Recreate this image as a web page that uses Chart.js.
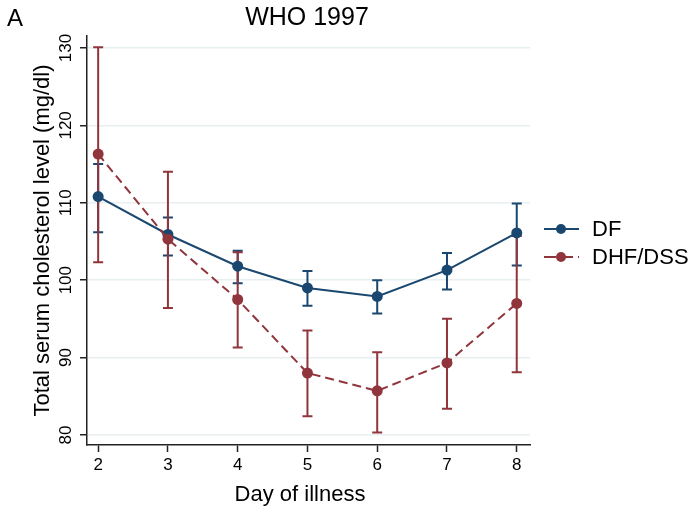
<!DOCTYPE html>
<html>
<head>
<meta charset="utf-8">
<script src="https://cdn.jsdelivr.net/npm/chart.js@4"></script>
<style>
  html, body { margin: 0; padding: 0; background: #fff; }
  canvas { display: block; }
</style>
</head>
<body>
<canvas id="c" width="690" height="512"></canvas>
<script>
// ---- data ----
const days = [2, 3, 4, 5, 6, 7, 8];
const dfMean  = [110.8, 105.9, 101.8, 99.0, 97.9, 101.3, 106.1];
const dfLow   = [106.2, 103.2,  99.6, 96.7, 95.7,  98.8, 101.9];
const dfHigh  = [115.0, 108.1, 103.8, 101.2, 100.0, 103.5, 109.9];
const dhfMean = [116.3, 105.3,  97.5, 88.0, 85.7, 89.3, 97.0];
const dhfLow  = [102.3,  96.4,  91.3, 82.4, 80.3, 83.4, 88.1];
const dhfHigh = [130.1, 114.0, 103.6, 93.5, 90.7, 95.0, 105.7];
const yTicks = [80, 90, 100, 110, 120, 130];
const xTicks = [2, 3, 4, 5, 6, 7, 8];
const seriesNames = ['DF', 'DHF/DSS'];
const titleText = 'WHO 1997';
const panelLabel = 'A';
const yTitle = 'Total serum cholesterol level (mg/dl)';
const xTitle = 'Day of illness';

const BLUE = '#1a476f';
const RED = '#90353b';
const FONT = '"Liberation Sans", Arial, Helvetica, sans-serif';

const errSeries = [
  { low: dfLow, high: dfHigh, color: BLUE },
  { low: dhfLow, high: dhfHigh, color: RED }
];

const extras = {
  id: 'extras',
  beforeDatasetsDraw(chart) {
    const ctx = chart.ctx;
    const xs = chart.scales.x, ys = chart.scales.y;
    ctx.save();
    ctx.lineWidth = 2;
    errSeries.forEach(s => {
      ctx.strokeStyle = s.color;
      days.forEach((d, i) => {
        const x = xs.getPixelForValue(d);
        const y1 = ys.getPixelForValue(s.low[i]);
        const y2 = ys.getPixelForValue(s.high[i]);
        ctx.beginPath();
        ctx.moveTo(x, y1); ctx.lineTo(x, y2);
        ctx.moveTo(x - 5, y1); ctx.lineTo(x + 5, y1);
        ctx.moveTo(x - 5, y2); ctx.lineTo(x + 5, y2);
        ctx.stroke();
      });
    });
    ctx.restore();
  },
  afterDraw(chart) {
    const ctx = chart.ctx;
    const ys = chart.scales.y;
    const ca = chart.chartArea;
    ctx.save();
    ctx.fillStyle = '#000';
    // y tick labels (rotated)
    ctx.font = '17px ' + FONT;
    ctx.textAlign = 'center';
    ctx.textBaseline = 'middle';
    yTicks.forEach(v => {
      const y = ys.getPixelForValue(v);
      ctx.save();
      ctx.translate(66, y);
      ctx.rotate(-Math.PI / 2);
      ctx.fillText(String(v), 0, 0);
      ctx.restore();
    });
    // y title
    ctx.font = '22px ' + FONT;
    ctx.save();
    ctx.translate(43, (ca.top + ca.bottom) / 2);
    ctx.rotate(-Math.PI / 2);
    ctx.fillText(yTitle, 0, 0);
    ctx.restore();
    // x title
    ctx.fillText(xTitle, 300, 495);
    // chart title
    ctx.font = '25px ' + FONT;
    ctx.fillText(titleText, 307, 18);
    // panel label
    ctx.textAlign = 'left';
    ctx.font = '24px ' + FONT;
    ctx.fillText(panelLabel, 7, 19);
    // legend
    const legend = [
      { name: seriesNames[0], color: BLUE, dash: [], y: 229 },
      { name: seriesNames[1], color: RED, dash: [12, 5], y: 257 }
    ];
    legend.forEach(l => {
      ctx.strokeStyle = l.color;
      ctx.lineWidth = 2;
      ctx.setLineDash(l.dash);
      ctx.beginPath();
      ctx.moveTo(544, l.y); ctx.lineTo(579, l.y);
      ctx.stroke();
      ctx.setLineDash([]);
      ctx.fillStyle = l.color;
      ctx.beginPath();
      ctx.arc(561, l.y, 5, 0, Math.PI * 2);
      ctx.fill();
      ctx.fillStyle = '#000';
      ctx.font = '22px ' + FONT;
      ctx.textAlign = 'left';
      ctx.textBaseline = 'middle';
      ctx.fillText(l.name, 592, l.y + 1);
    });
    ctx.restore();
  }
};

new Chart(document.getElementById('c'), {
  type: 'line',
  data: {
    datasets: [
      {
        label: seriesNames[0],
        data: days.map((d, i) => ({ x: d, y: dfMean[i] })),
        borderColor: BLUE,
        backgroundColor: BLUE,
        borderWidth: 2,
        pointRadius: 5.5,
        pointBorderWidth: 0,
        pointBackgroundColor: BLUE,
        tension: 0,
        order: 2
      },
      {
        label: seriesNames[1],
        data: days.map((d, i) => ({ x: d, y: dhfMean[i] })),
        borderColor: RED,
        backgroundColor: RED,
        borderWidth: 2,
        borderDash: [9, 5],
        pointRadius: 5.5,
        pointBorderWidth: 0,
        pointBackgroundColor: RED,
        tension: 0,
        order: 1
      }
    ]
  },
  options: {
    responsive: false,
    animation: false,
    devicePixelRatio: 1,
    layout: { padding: { top: 36, right: 160, left: 0, bottom: 0 } },
    plugins: { legend: { display: false }, tooltip: { enabled: false }, title: { display: false } },
    scales: {
      x: {
        type: 'linear',
        min: 1.84,
        max: 8.19,
        afterBuildTicks: s => { s.ticks = xTicks.map(v => ({ value: v })); },
        afterFit: s => { s.height = 67; },
        border: { display: true, color: '#222', width: 1.5 },
        grid: { display: true, drawOnChartArea: false, drawTicks: true, tickLength: 7, tickColor: '#222', tickWidth: 1.5 },
        ticks: { color: '#000', font: { family: FONT, size: 17 }, padding: 3, maxRotation: 0, autoSkip: false }
      },
      y: {
        type: 'linear',
        min: 78.7,
        max: 131.55,
        afterBuildTicks: s => { s.ticks = yTicks.map(v => ({ value: v })); },
        afterFit: s => { s.width = 87; },
        border: { display: true, color: '#222', width: 1.5 },
        grid: { display: true, drawOnChartArea: true, color: '#e8eff1', lineWidth: 1.5, drawTicks: true, tickLength: 7, tickColor: '#222', tickWidth: 1.5 },
        ticks: { display: false }
      }
    }
  },
  plugins: [extras]
});
</script>
</body>
</html>
